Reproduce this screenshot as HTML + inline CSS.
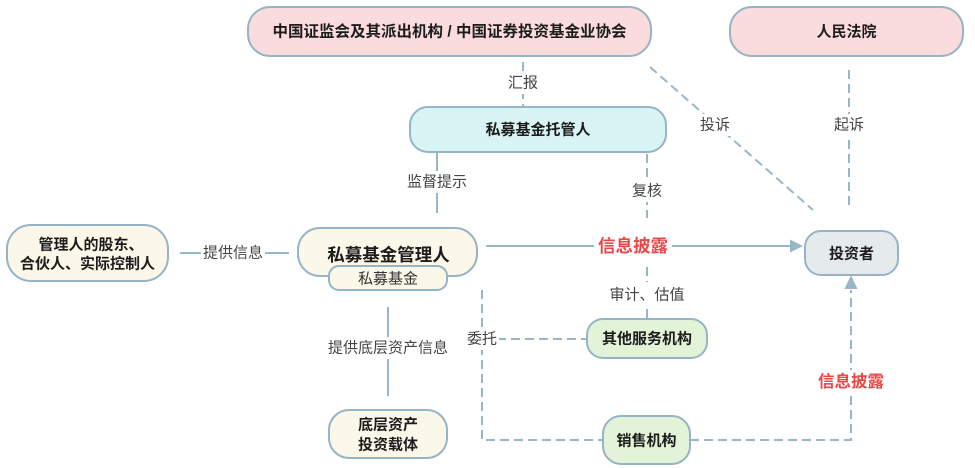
<!DOCTYPE html>
<html>
<head>
<meta charset="utf-8">
<style>
html,body{margin:0;padding:0;background:#fff;}
svg{display:block;}
text{font-family:"Liberation Sans","Noto Sans CJK SC",sans-serif;}
.b{font-weight:bold;fill:#1c1c1c;font-size:15px;}
.l{fill:#444;font-size:15px;}
.r{fill:#e84848;font-weight:bold;}
.box{stroke:#95b4c6;stroke-width:2;}
.ln{stroke:#97b6c8;stroke-width:2;fill:none;}
.dl{stroke:#97b6c8;stroke-width:2;fill:none;stroke-dasharray:9 5;}
.w{fill:#fff;}
</style>
</head>
<body>
<svg width="975" height="468" viewBox="0 0 975 468" xmlns="http://www.w3.org/2000/svg">
  <!-- connectors -->
  <line class="dl" x1="523" y1="62" x2="523" y2="106"/>
  <line class="dl" x1="650" y1="67" x2="813" y2="210"/>
  <line class="dl" x1="849" y1="70" x2="849" y2="208"/>
  <line class="ln" x1="437" y1="153" x2="437" y2="213"/>
  <line class="dl" x1="647" y1="154" x2="647" y2="218"/>
  <line class="ln" x1="486" y1="246" x2="792" y2="246"/>
  <polygon points="803,246 790,239.5 790,252.5" fill="#97b6c8"/>
  <line class="dl" x1="647" y1="267" x2="647" y2="319"/>
  <line class="ln" x1="180" y1="253" x2="289" y2="253"/>
  <line class="ln" x1="388" y1="307" x2="388" y2="396"/>
  <polyline class="dl" points="482,290 482,440 603,440"/>
  <line class="dl" x1="497" y1="339" x2="587" y2="339"/>
  <polyline class="dl" points="690,440 851,440 851,290"/>
  <polygon points="851,275 844.5,289 857.5,289" fill="#97b6c8"/>

  <!-- label backgrounds -->
  <rect class="w" x="505" y="72" width="36" height="22"/>
  <rect class="w" x="697" y="114" width="36" height="22"/>
  <rect class="w" x="831" y="114" width="36" height="22"/>
  <rect class="w" x="404" y="171" width="66" height="22"/>
  <rect class="w" x="629" y="180" width="36" height="22"/>
  <rect class="w" x="594" y="234" width="78" height="24"/>
  <rect class="w" x="607" y="282" width="80" height="25"/>
  <rect class="w" x="201" y="242" width="64" height="22"/>
  <rect class="w" x="325" y="337" width="126" height="22"/>
  <rect class="w" x="465" y="328" width="34" height="22"/>
  <rect class="w" x="815" y="370" width="72" height="24"/>

  <!-- boxes -->
  <rect class="box" x="248" y="7" width="403" height="49" rx="22" fill="#fadcdc"/>
  <rect class="box" x="730" y="7" width="233" height="49" rx="22" fill="#fadcdc"/>
  <rect class="box" x="410" y="107" width="256" height="45" rx="18" fill="#d9f4f4"/>
  <rect class="box" x="298" y="228" width="179" height="48" rx="22" fill="#fbf8e9"/>
  <rect class="box" x="329" y="266" width="118" height="24" rx="10" fill="#fbf8e9"/>
  <rect class="box" x="7" y="225" width="161" height="56" rx="24" fill="#fbf8e9"/>
  <rect class="box" x="805" y="231" width="93" height="44" rx="16" fill="#e5eaed"/>
  <rect class="box" x="587" y="319" width="120" height="39" rx="16" fill="#e3f3d8"/>
  <rect class="box" x="603" y="416" width="87" height="48" rx="18" fill="#e3f3d8"/>
  <rect class="box" x="329" y="410" width="118" height="48" rx="20" fill="#fbf8e9"/>

  <!-- box texts -->
  <text class="b" x="449.5" y="32" text-anchor="middle" dominant-baseline="central" style="font-size:15.5px">中国证监会及其派出机构&#160;/&#160;中国证券投资基金业协会</text>
  <text class="b" x="846.5" y="32" text-anchor="middle" dominant-baseline="central">人民法院</text>
  <text class="b" x="538" y="130" text-anchor="middle" dominant-baseline="central">私募基金托管人</text>
  <text class="b" x="388.5" y="255" text-anchor="middle" dominant-baseline="central" style="font-size:17.5px">私募基金管理人</text>
  <text x="388" y="279" text-anchor="middle" dominant-baseline="central" style="font-size:15px;fill:#333">私募基金</text>
  <text class="b" x="91" y="245" text-anchor="middle" dominant-baseline="central">管理人的股东、</text>
  <text class="b" x="87.5" y="264" text-anchor="middle" dominant-baseline="central">合伙人、实际控制人</text>
  <text class="b" x="851.5" y="254" text-anchor="middle" dominant-baseline="central">投资者</text>
  <text class="b" x="647" y="339" text-anchor="middle" dominant-baseline="central">其他服务机构</text>
  <text class="b" x="646.5" y="441" text-anchor="middle" dominant-baseline="central">销售机构</text>
  <text class="b" x="388" y="425" text-anchor="middle" dominant-baseline="central">底层资产</text>
  <text class="b" x="388" y="445" text-anchor="middle" dominant-baseline="central">投资载体</text>

  <!-- connector labels -->
  <text class="l" x="523" y="83" text-anchor="middle" dominant-baseline="central">汇报</text>
  <text class="l" x="715" y="125" text-anchor="middle" dominant-baseline="central">投诉</text>
  <text class="l" x="849" y="125" text-anchor="middle" dominant-baseline="central">起诉</text>
  <text class="l" x="437" y="182" text-anchor="middle" dominant-baseline="central">监督提示</text>
  <text class="l" x="647" y="191" text-anchor="middle" dominant-baseline="central">复核</text>
  <text class="r" x="633" y="246" text-anchor="middle" dominant-baseline="central" style="font-size:17.5px">信息披露</text>
  <text class="l" x="647" y="295" text-anchor="middle" dominant-baseline="central">审计、估值</text>
  <text class="l" x="233" y="253" text-anchor="middle" dominant-baseline="central">提供信息</text>
  <text class="l" x="388" y="348" text-anchor="middle" dominant-baseline="central">提供底层资产信息</text>
  <text class="l" x="482" y="339" text-anchor="middle" dominant-baseline="central">委托</text>
  <text class="r" x="851" y="382" text-anchor="middle" dominant-baseline="central" style="font-size:16.5px">信息披露</text>
</svg>
</body>
</html>
